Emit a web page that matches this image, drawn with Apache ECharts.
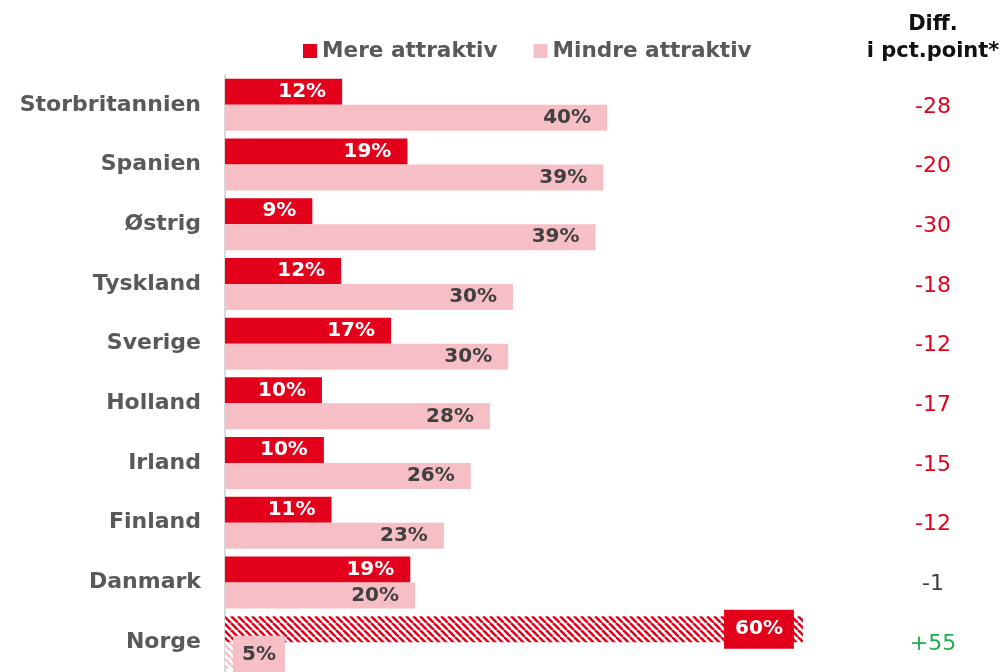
<!DOCTYPE html>
<html><head><meta charset="utf-8">
<script src="https://cdn.jsdelivr.net/npm/echarts@6/dist/echarts.min.js"></script>
<style>html,body{margin:0;padding:0;background:#fff}#c{width:1004px;height:672px}</style>
</head><body><div id="c"></div>
<script>
const categories = ['Storbritannien','Spanien','Østrig','Tyskland','Sverige','Holland','Irland','Finland','Danmark','Norge'];
const mereValues = [12.2, 19.0, 9.1, 12.1, 17.3, 10.1, 10.3, 11.1, 19.3, 60.2];
const mindreValues = [39.8, 39.4, 38.6, 30.0, 29.5, 27.6, 25.6, 22.8, 19.8, 5.0];
const mereLabels = ['12%','19%','9%','12%','17%','10%','10%','11%','19%','60%'];
const mindreLabels = ['40%','39%','39%','30%','30%','28%','26%','23%','20%','5%'];
const diffLabels = ['-28','-20','-30','-18','-12','-17','-15','-12','-1','+55'];

const RED = '#E2001A', PINK = '#F6BFC5', GRAY = '#595959', DARK = '#404040', GREEN = '#1DB04A';
const FONT = 'DejaVu Sans';

function stripes(fg){
  const s = 7, c = document.createElement('canvas');
  c.width = s; c.height = s;
  const g = c.getContext('2d');
  g.fillStyle = '#fff'; g.fillRect(0,0,s,s);
  g.strokeStyle = fg; g.lineWidth = 2.6;
  for (let k=-1;k<=1;k++){ g.beginPath(); g.moveTo(k*s,0); g.lineTo(k*s+s,s); g.stroke(); }
  return {image: c, repeat: 'repeat'};
}

const last = categories.length - 1;
const mereData = mereValues.map((v,i)=> i===last ? {
  value: v, itemStyle:{color: stripes(RED)},
  label:{backgroundColor: RED, padding:[10,11,9,11], distance: 9}
} : v);
const mindreData = mindreValues.map((v,i)=> i===last ? {
  value: v, itemStyle:{color: stripes(PINK)},
  label:{position:'insideLeft', backgroundColor: PINK, padding:[10,9,9,9], distance: 8}
} : v);

const diffKey = d => d.startsWith('+') ? 'g' : (Math.abs(parseFloat(d)) <= 1 ? 'd' : 'r');
const rs = c => ({color: c, fontSize: 22, fontFamily: FONT, padding: [4,0,0,0]});

const chart = echarts.init(document.getElementById('c'));
chart.setOption({
  animation: false,
  textStyle: {fontFamily: FONT},
  legend: {
    top: 35, left: 298, itemWidth: 14, itemHeight: 14, itemGap: 36,
    icon: 'rect',
    textStyle: {fontFamily: FONT, fontSize: 21.6, fontWeight: 'bold', color: GRAY},
    data: ['Mere attraktiv','Mindre attraktiv']
  },
  graphic: [{
    type: 'text', x: 933, y: 11,
    style: {text: 'Diff.\ni pct.point*', fontFamily: FONT, fontSize: 21, fontWeight: 'bold',
      fill: '#111', align: 'center', verticalAlign: 'top', lineHeight: 27}
  }],
  grid: {left: 225, right: 11, top: 75, bottom: -3, containLabel: false},
  xAxis: {type: 'value', min: 0, max: 80, show: false},
  yAxis: [{
    type: 'category', data: categories, inverse: true,
    axisLine: {show: true, lineStyle: {color: '#D9D9D9', width: 2}},
    axisTick: {show: false},
    axisLabel: {fontFamily: FONT, fontSize: 22, fontWeight: 'bold', color: GRAY, margin: 24, padding: [4,0,0,0]}
  },{
    type: 'category', data: categories, inverse: true, position: 'right',
    axisLine: {show: false}, axisTick: {show: false},
    axisLabel: {inside: true, margin: 60, align: 'center', fontFamily: FONT, fontSize: 22,
      formatter: (v, i) => '{' + diffKey(diffLabels[i]) + '|' + diffLabels[i] + '}',
      rich: {r: rs(RED), g: rs(GREEN), d: rs(DARK)}
    }
  }],
  series: [{
    name: 'Mere attraktiv', type: 'bar', data: mereData, barWidth: 26, barGap: '0%',
    itemStyle: {color: RED},
    label: {show: true, position: 'insideRight', distance: 16, color: '#fff', fontFamily: FONT,
      fontSize: 20, fontWeight: 'bold', formatter: p => mereLabels[p.dataIndex]}
  },{
    name: 'Mindre attraktiv', type: 'bar', data: mindreData, barWidth: 26,
    itemStyle: {color: PINK},
    label: {show: true, position: 'insideRight', distance: 16, color: DARK, fontFamily: FONT,
      fontSize: 20, fontWeight: 'bold', formatter: p => mindreLabels[p.dataIndex]}
  }]
});
</script></body></html>
